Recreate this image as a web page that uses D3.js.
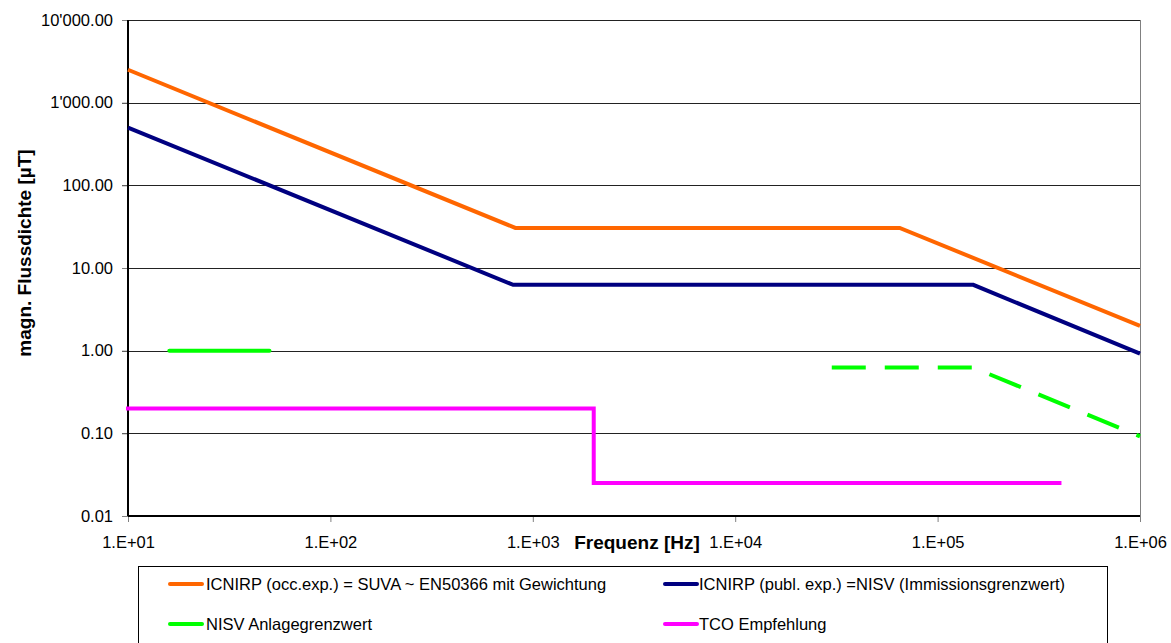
<!DOCTYPE html>
<html>
<head>
<meta charset="utf-8">
<script src="https://cdn.jsdelivr.net/npm/d3@7"></script>
<style>
  body { margin: 0; background: #fff; font-family: "Liberation Sans", Arial, sans-serif; }
  .axis text { font-size: 16.5px; fill: #000; font-family: "Liberation Sans", Arial, sans-serif; }
  .axis-title { font-size: 19px; font-weight: bold; }
  .legend text { font-size: 16.5px; }
</style>
</head>
<body>
<svg id="chart"></svg>
<script>
// x ticks (Hz) and y ticks (µT)
const xTicks = [1e1, 1e2, 1e3, 1e4, 1e5, 1e6];
const yTicks = [0.01, 0.1, 1, 10, 100, 1000, 10000];

// ICNIRP occupational
const occFreq = [10, 820, 65000, 1e6];
const occVals = [2500, 30.5, 30.5, 2];

// ICNIRP public = NISV
const publFreq = [10, 800, 150000, 1e6];
const publVals = [500, 6.25, 6.25, 0.92];

// NISV Anlagegrenzwert (two pieces)
const nisvFreq = [16, 50];
const nisvVals = [1, 1];
const nisvHfFreq = [30000, 150000, 1e6];
const nisvHfVals = [0.625, 0.625, 0.092];

// TCO Empfehlung
const tcoFreq = [10, 2000, 2000, 400000];
const tcoVals = [0.2, 0.2, 0.025, 0.025];

const legendNames = [
  'ICNIRP (occ.exp.) = SUVA ~ EN50366 mit Gewichtung',
  'ICNIRP (publ. exp.) =NISV (Immissionsgrenzwert)',
  'NISV Anlagegrenzwert',
  'TCO Empfehlung'
];
const colors = ['#FF6600', '#000080', '#00FF00', '#FF00FF'];

class LogChart {
  constructor(_config) {
    this.config = {
      parentElement: _config.parentElement,
      containerWidth: 1171,
      containerHeight: 643,
      margin: { top: 20, right: 31, bottom: 127, left: 128 }
    };
    this.initVis();
  }

  initVis() {
    let vis = this;
    vis.width = vis.config.containerWidth - vis.config.margin.left - vis.config.margin.right;
    vis.height = vis.config.containerHeight - vis.config.margin.top - vis.config.margin.bottom;

    vis.svg = d3.select(vis.config.parentElement)
      .attr('width', vis.config.containerWidth)
      .attr('height', vis.config.containerHeight);

    vis.chart = vis.svg.append('g')
      .attr('transform', `translate(${vis.config.margin.left}, ${vis.config.margin.top})`);

    vis.xScale = d3.scaleLog().domain([10, 1e6]).range([0, vis.width]);
    vis.yScale = d3.scaleLog().domain([0.01, 10000]).range([vis.height, 0]);

    const loc = d3.formatLocale({ decimal: '.', thousands: "'", grouping: [3], currency: ['', ''] });
    const yFmt = loc.format(',.2f');

    // horizontal gridlines
    vis.chart.append('g')
      .selectAll('line')
      .data(yTicks)
      .join('line')
      .attr('x1', -6)
      .attr('x2', vis.width)
      .attr('y1', d => Math.round(vis.yScale(d)) + 0.5)
      .attr('y2', d => Math.round(vis.yScale(d)) + 0.5)
      .attr('stroke', d => d === 0.01 ? 'none' : '#222')
      .attr('stroke-width', 1);

    // right border
    vis.chart.append('line')
      .attr('x1', vis.width + 0.5).attr('x2', vis.width + 0.5)
      .attr('y1', 0).attr('y2', vis.height + 6)
      .attr('stroke', '#808080');

    vis.yAxis = d3.axisLeft(vis.yScale)
      .tickValues(yTicks)
      .tickFormat(yFmt)
      .tickSize(6)
      .tickPadding(9);

    vis.xAxis = d3.axisBottom(vis.xScale)
      .tickValues(xTicks)
      .tickFormat(d => '1.E+0' + Math.round(Math.log10(d)))
      .tickSize(6)
      .tickPadding(14);

    vis.yAxisGroup = vis.chart.append('g')
      .attr('class', 'axis y-axis')
      .call(vis.yAxis);

    vis.xAxisGroup = vis.chart.append('g')
      .attr('class', 'axis x-axis')
      .attr('transform', `translate(0, ${vis.height})`)
      .call(vis.xAxis);

    vis.chart.selectAll('.axis .domain').remove();
    vis.chart.selectAll('.axis .tick line').attr('stroke', '#808080');

    // black axis lines
    vis.chart.append('line')
      .attr('x1', 0).attr('x2', 0).attr('y1', 0).attr('y2', vis.height)
      .attr('stroke', '#000').attr('stroke-width', 2);
    vis.chart.append('line')
      .attr('x1', 0).attr('x2', vis.width).attr('y1', vis.height).attr('y2', vis.height)
      .attr('stroke', '#000').attr('stroke-width', 2);

    // axis titles
    vis.svg.append('text')
      .attr('class', 'axis-title')
      .attr('transform', 'translate(31, 253) rotate(-90)')
      .attr('text-anchor', 'middle')
      .text('magn. Flussdichte [µT]');

    vis.svg.append('text')
      .attr('class', 'axis-title')
      .attr('x', 637)
      .attr('y', 549)
      .attr('text-anchor', 'middle')
      .text('Frequenz [Hz]');

    vis.updateVis();
  }

  updateVis() {
    let vis = this;
    vis.line = d3.line()
      .x(d => vis.xScale(d[0]))
      .y(d => vis.yScale(d[1]));

    const series = [
      { f: occFreq, v: occVals, color: colors[0], dash: null },
      { f: publFreq, v: publVals, color: colors[1], dash: null },
      { f: nisvFreq, v: nisvVals, color: colors[2], dash: null, cap: 'round' },
      { f: nisvHfFreq, v: nisvHfVals, color: colors[2], dash: '34,19' },
      { f: tcoFreq, v: tcoVals, color: colors[3], dash: null, cap: 'square' }
    ];

    vis.chart.selectAll('.chart-line')
      .data(series)
      .join('path')
      .attr('class', 'chart-line')
      .attr('d', s => vis.line(d3.zip(s.f, s.v)))
      .attr('fill', 'none')
      .attr('stroke', s => s.color)
      .attr('stroke-width', 4)
      .attr('stroke-dasharray', s => s.dash)
      .attr('stroke-linecap', s => s.cap || 'butt');

    // legend
    const legend = vis.svg.append('g').attr('class', 'legend');
    legend.append('rect')
      .attr('x', 138.5).attr('y', 566.5)
      .attr('width', 969).attr('height', 90)
      .attr('fill', '#fff').attr('stroke', '#000');

    const lx = [170, 665];
    const tx = [206, 699];
    const ly = [584, 624];
    const items = legend.selectAll('.legend-item')
      .data(legendNames)
      .join('g')
      .attr('class', 'legend-item');

    items.append('line')
      .attr('x1', (d, i) => lx[i % 2])
      .attr('x2', (d, i) => lx[i % 2] + 32)
      .attr('y1', (d, i) => ly[Math.floor(i / 2)])
      .attr('y2', (d, i) => ly[Math.floor(i / 2)])
      .attr('stroke', (d, i) => colors[i])
      .attr('stroke-width', 4)
      .attr('stroke-linecap', 'round');

    items.append('text')
      .attr('x', (d, i) => tx[i % 2])
      .attr('y', (d, i) => ly[Math.floor(i / 2)] + 6)
      .text(d => d);
  }
}

new LogChart({ parentElement: '#chart' });
</script>
</body>
</html>
